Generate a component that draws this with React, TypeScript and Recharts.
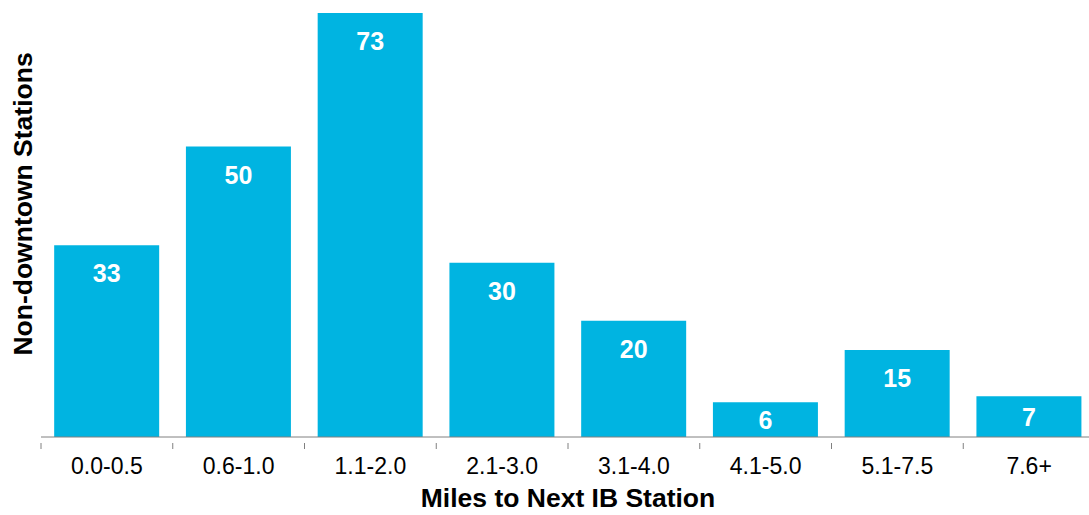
import { BarChart, Bar, XAxis, YAxis, LabelList, Label } from "recharts";

const categories = ["0.0-0.5", "0.6-1.0", "1.1-2.0", "2.1-3.0", "3.1-4.0", "4.1-5.0", "5.1-7.5", "7.6+"];
const stations = [33, 50, 73, 30, 20, 6, 15, 7];

const data = categories.map((range, i) => ({ range, stations: stations[i] }));

const FONT = "'Liberation Sans', Arial, sans-serif";

// tick marks sit on category boundaries, labels at category centres
function BoundaryTick(props: any) {
  const { x, y, payload, band } = props;
  const left = x - band / 2;
  return (
    <g>
      <line x1={left} x2={left} y1={y - 15} y2={y - 9} stroke="#808080" />
      <text x={x} y={y} dy="0.71em" textAnchor="middle"
            style={{ fontSize: 23, fill: "#000", fontFamily: FONT }}>
        {payload.value}
      </text>
    </g>
  );
}

function BarLabel(props: any) {
  const { x, y, width, height, value } = props;
  const cy = height < 60 ? y + height / 2 : y + 28;
  return (
    <text x={x + width / 2} y={cy} dy="0.36em" textAnchor="middle"
          style={{ fontSize: 25, fontWeight: 700, fill: "#fff", fontFamily: FONT }}>
      {value}
    </text>
  );
}

export default function App() {
  const band = (1100 - 41 - 5) / categories.length;
  return (
    <div style={{ position: "absolute", left: 0, top: 0, width: 1089, height: 515, overflow: "hidden", background: "#fff" }}>
      <BarChart width={1100} height={515} data={data} barCategoryGap="10%"
                margin={{ top: 13, right: 5, bottom: 0, left: 0 }}>
        <XAxis dataKey="range" height={78} interval={0} stroke="#808080" tickLine={false} tickSize={6} tickMargin={15}
               tick={<BoundaryTick band={band} />}>
          <Label value="Miles to Next IB Station" position="insideBottom" offset={8}
                 style={{ fontSize: 26.5, fontWeight: 700, fill: "#000", fontFamily: FONT }} />
        </XAxis>
        <YAxis width={41} domain={[0, 73]} axisLine={false} tickLine={false} tick={false}>
          <Label
            content={() => (
              <text x={31.5} y={204} textAnchor="middle" transform="rotate(-90, 31.5, 204)"
                    style={{ fontSize: 26.5, fontWeight: 700, fill: "#000", fontFamily: FONT }}>
                Non-downtown Stations
              </text>
            )}
          />
        </YAxis>
        <Bar dataKey="stations" fill="#00B4E1" isAnimationActive={false}>
          <LabelList dataKey="stations" content={<BarLabel />} />
        </Bar>
      </BarChart>
    </div>
  );
}
